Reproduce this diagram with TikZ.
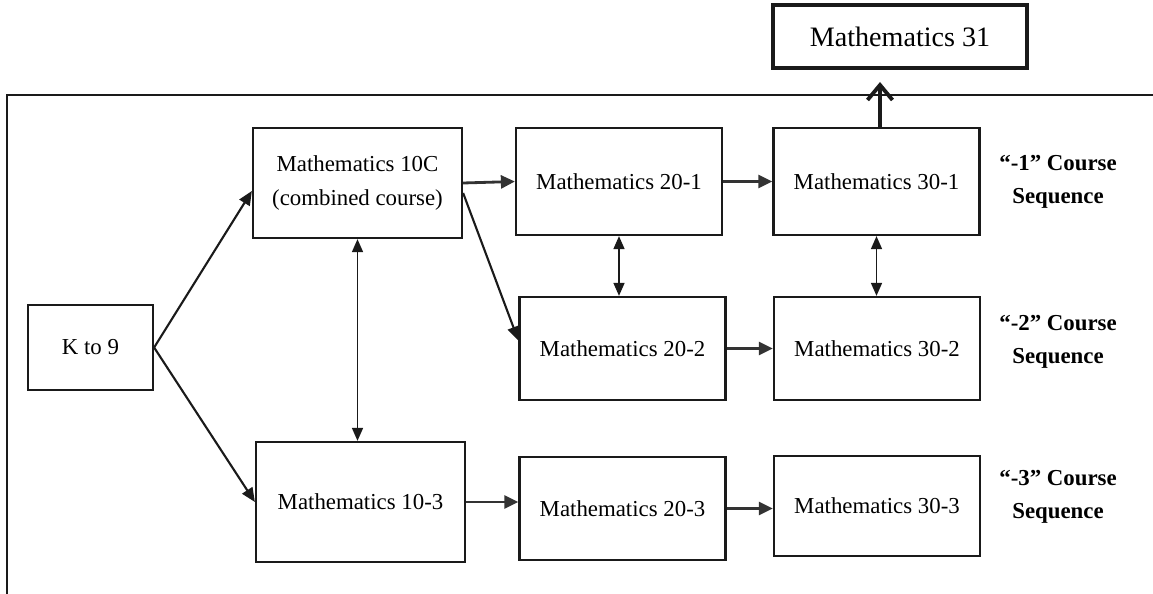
\documentclass[tikz,border=0pt]{standalone}
\usepackage{fontspec}
\setmainfont{Liberation Serif}
\usepackage{tikz}
\usepackage{xcolor}
\usetikzlibrary{arrows.meta,positioning,calc}
\definecolor{ink}    {HTML}{1A1A1A}
\definecolor{inkgray}{HTML}{333333}
\tikzset{
  course/.style  ={draw=ink, fill=white, line width=1.3pt,
                   minimum width=4.12cm, minimum height=2.06cm,
                   align=center, inner sep=2pt,
                   font=\fontsize{13}{19}\selectfont},
  topcourse/.style={course, line width=2.4pt, minimum width=5.08cm,
                   minimum height=1.26cm, font=\fontsize{16}{19}\selectfont},
  seqlabel/.style={align=center, font=\fontsize{13}{19}\selectfont\bfseries},
  arr/.style     ={-{Triangle[length=2.8mm,width=2.6mm]}, line width=1.6pt, color=inkgray},
  slimarr/.style ={-{Triangle[length=2.8mm,width=2.4mm]}, line width=1.2pt, color=ink},
  botharr/.style ={{Triangle[length=2.6mm,width=2.2mm]}-{Triangle[length=2.6mm,width=2.2mm]},
                   line width=0.9pt, color=ink},
  uparr/.style   ={-{Straight Barb[length=3mm,width=5mm]}, line width=2.2pt, color=ink},
  frame/.style   ={line width=0.8pt, color=ink},
}
\begin{document}
\begin{tikzpicture}[x=0.02cm,y=-0.02cm]
  \useasboundingbox (0,0) rectangle (1153,594);
  \draw[frame] (7,594) -- (7,95) -- (1153,95);

  \node[course,minimum width=2.5cm,minimum height=1.7cm] (k9) at (90.5,347.5) {K to 9};

  \node[course,minimum width=4.18cm,minimum height=2.2cm] (m10c) at (357.5,183)
       {Mathematics 10C\\(combined course)};
  \node[course,minimum width=4.18cm,minimum height=2.4cm] (m103) at (360.5,502) {Mathematics 10-3};

  \node[course,minimum height=2.14cm] (m201) at (619,181.5) {Mathematics 20-1};
  \node[course] (m202) at (622.5,348.5) {Mathematics 20-2};
  \node[course] (m203) at (622.5,508.5) {Mathematics 20-3};

  \node[course,minimum height=2.14cm] (m301) at (876.5,181.5) {Mathematics 30-1};
  \node[course] (m302) at (877,348.5) {Mathematics 30-2};
  \node[course,minimum height=2cm] (m303) at (877,506) {Mathematics 30-3};

  \node[topcourse] (m31) at (900,36.5) {Mathematics 31};
  \coordinate (tip) at (880,82);

  \node[seqlabel] (seq1) at (1058,182) {“-1” Course\\Sequence};
  \node[seqlabel] (seq2) at (1058,342) {“-2” Course\\Sequence};
  \node[seqlabel] (seq3) at (1058,497) {“-3” Course\\Sequence};

  \draw[slimarr] (k9.east) -- ([yshift=-0.16cm]m10c.west);
  \draw[slimarr] (k9.east) -- (m103.west);
  \draw[botharr] (m10c.south) -- (m10c.south |- m103.north);

  \draw[arr] (m10c.east) -- (m201.west);
  \draw[slimarr] ([yshift=-0.2cm]m10c.east) -- ([yshift=0.16cm]m202.west);
  \draw[arr] (m103.east) -- (m203.west |- m103.east);

  \draw[botharr] (m201.south) -- (m201.south |- m202.north);
  \draw[botharr] (m301.south) -- (m301.south |- m302.north);

  \draw[arr] (m201.east) -- (m301.west);
  \draw[arr] (m202.east) -- (m302.west);
  \draw[arr] (m203.east) -- (m303.west |- m203.east);

  \draw[uparr] (tip |- m301.north) -- (tip);
\end{tikzpicture}
\end{document}
